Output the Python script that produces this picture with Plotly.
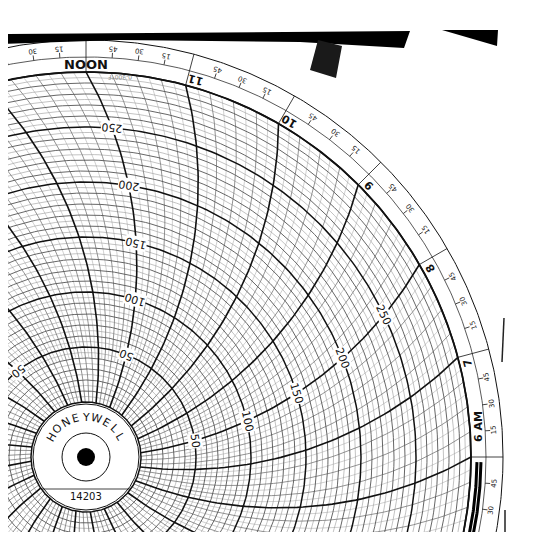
import numpy as np
import plotly.graph_objects as go

# --- chart paper geometry (pixel space of the photo) ---
CX, CY = 86, 457          # chart centre
R_HUB = 53                # white hub
R_ZERO = 55               # value 0
R_FULL = 385              # value 300 / edge of grid
R_OUT = 417               # outer rim
ARM = 390                 # pen arm length -> curvature of time lines
PAGE_PAD = 8              # browser body margin

VALUE_MAX = 300
VALUE_LABELS = [50, 100, 150, 200, 250]
LABEL_HOURS = [0, 4, 8, 12, 16, 20]
FLIPPED_LABEL_HOURS = [4, 8]
HOUR_NAMES = {12: "NOON", 11: "11", 10: "10", 9: "9", 8: "8", 7: "7", 6: "6 AM",
              5: "5", 4: "4", 3: "3", 2: "2", 1: "1", 0: "MIDNIGHT", 13: "1", 14: "2",
              15: "3", 16: "4", 17: "5", 18: "6 PM", 19: "7", 20: "8", 21: "9",
              22: "10", 23: "11"}
MINUTE_LABELS = [15, 30, 45]


def r_of(v):
    return R_ZERO + (R_FULL - R_ZERO) * v / VALUE_MAX


def phi(r):
    return np.arccos(r / (2 * ARM)) - np.arccos(R_FULL / (2 * ARM))


def pt(t, r):
    th = np.radians(15 * t - 90) - phi(r)
    return CX + r * np.cos(th), CY - r * np.sin(th), np.degrees(th)


def circle_xy(r, n=400):
    a = np.linspace(0, 2 * np.pi, n)
    return list(CX + r * np.cos(a)) + [None], list(CY - r * np.sin(a)) + [None]


def norm_rot(a):
    a = a % 360
    return a - 360 if a > 180 else a


fig = go.Figure()


def add_lines(xs, ys, color, width):
    fig.add_trace(go.Scatter(x=xs, y=ys, mode="lines", hoverinfo="skip",
                             line=dict(color=color, width=width), showlegend=False))


# concentric value circles
groups = {"minor": ([], []), "mid": ([], []), "major": ([], [])}
for v in range(0, VALUE_MAX + 1, 5):
    key = "major" if v % 50 == 0 else ("mid" if v % 10 == 0 else "minor")
    x, y = circle_xy(r_of(v))
    groups[key][0].extend(x)
    groups[key][1].extend(y)

# time lines
tl = {"fine": ([], []), "q": ([], []), "hour": ([], [])}
rs = np.linspace(R_ZERO, R_FULL, 60)
for k in range(24 * 8):
    t = k / 8
    if k % 8 == 0:
        key, r0 = "hour", R_ZERO
    elif k % 2 == 0:
        key, r0 = "q", R_ZERO
    else:
        key, r0 = "fine", r_of(40)
    rr = rs[rs >= r0]
    p = [pt(t, r) for r in rr]
    tl[key][0].extend([q[0] for q in p] + [None])
    tl[key][1].extend([q[1] for q in p] + [None])

add_lines(*tl["fine"], "#b0b0b0", 0.6)
add_lines(*groups["minor"], "#9a9a9a", 0.6)
add_lines(*tl["q"], "#777777", 0.8)
add_lines(*groups["mid"], "#555555", 0.9)
add_lines(*groups["major"], "#111111", 1.5)
add_lines(*tl["hour"], "#111111", 1.6)

# outer ring
for r, w in [(R_FULL, 1.8), (400, 0.7), (R_OUT, 1.0)]:
    add_lines(*circle_xy(r, 800), "#111111", w)
tx, ty = [], []
for k in range(24 * 4):
    t = k / 4
    a = np.radians(15 * t - 90)
    r1, r2 = (R_FULL, R_OUT) if k % 4 == 0 else (400, 405)
    tx += [CX + r1 * np.cos(a), CX + r2 * np.cos(a), None]
    ty += [CY - r1 * np.sin(a), CY - r2 * np.sin(a), None]
add_lines(tx, ty, "#111111", 0.8)

# heavy marker near 6 AM
for dr in (391, 395):
    a = np.radians(np.linspace(15 * 5.95 - 90, 15 * 5.2 - 90, 40))
    add_lines(list(CX + dr * np.cos(a)), list(CY - dr * np.sin(a)), "#000000", 3)

ann = []
# hour labels
for h, name in HOUR_NAMES.items():
    a = 15 * h - 90
    big = h == 12
    off = 4.5 if h == 6 else (0 if big else -1.2)
    ar = np.radians(a + off)
    rot = 0 if big else norm_rot(270 - a)
    ann.append(dict(x=CX + 393 * np.cos(ar), y=CY - 393 * np.sin(ar),
                    text="<b>%s</b>" % name, textangle=rot, showarrow=False,
                    font=dict(size=13 if big else 11, color="#111", family="DejaVu Sans")))
# minute labels
for h in range(24):
    for m in MINUTE_LABELS:
        a = 15 * (h + m / 60) - 90
        ar = np.radians(a)
        ann.append(dict(x=CX + 409 * np.cos(ar), y=CY - 409 * np.sin(ar), text=str(m),
                        textangle=norm_rot(270 - a), showarrow=False,
                        font=dict(size=7, color="#222", family="DejaVu Sans")))
# value labels
for h in LABEL_HOURS:
    for v in VALUE_LABELS:
        x, y, th = pt(h, r_of(v))
        rot = 270 - th + (180 if h in FLIPPED_LABEL_HOURS else 0)
        ann.append(dict(x=x, y=y, text=str(v), textangle=norm_rot(rot), showarrow=False,
                        bgcolor="white", borderpad=0,
                        font=dict(size=11, color="#111", family="DejaVu Sans")))

# hub text
HUB_TEXT = "HONEYWELL"
for i, ch in enumerate(HUB_TEXT):
    a = 150 - i * 120 / (len(HUB_TEXT) - 1)
    ar = np.radians(a)
    ann.append(dict(x=CX + 40 * np.cos(ar), y=CY - 40 * np.sin(ar), text=ch,
                    textangle=90 - a, showarrow=False,
                    font=dict(size=11, color="#111", family="DejaVu Sans")))
ann.append(dict(x=CX, y=CY + 39, text="14203", showarrow=False,
                font=dict(size=10, color="#111", family="DejaVu Sans")))
ann.append(dict(x=120, y=78, text="0-300°F", textangle=180, showarrow=False,
                font=dict(size=6, color="#888", family="DejaVu Sans")))

shapes = [
    dict(type="circle", x0=CX - R_HUB, x1=CX + R_HUB, y0=CY - R_HUB, y1=CY + R_HUB,
         fillcolor="white", line=dict(color="#111", width=1), layer="above"),
    dict(type="circle", x0=CX - 24, x1=CX + 24, y0=CY - 24, y1=CY + 24,
         line=dict(color="#111", width=1), layer="above"),
    dict(type="circle", x0=CX - 9, x1=CX + 9, y0=CY - 9, y1=CY + 9,
         fillcolor="black", line=dict(width=0), layer="above"),
    dict(type="line", x0=CX - 45, x1=CX + 45, y0=CY + 32, y1=CY + 32,
         line=dict(color="#111", width=0.8), layer="above"),
    # paper holder edges
    dict(type="path", path="M 0 34 L 410 31 L 404 48 L 300 42 L 120 40 L 0 44 Z",
         fillcolor="black", line=dict(width=0), layer="above"),
    dict(type="path", path="M 442 30 L 498 30 L 497 46 Z",
         fillcolor="black", line=dict(width=0), layer="above"),
    dict(type="path", path="M 318 40 L 342 46 L 336 78 L 310 70 Z",
         fillcolor="#1a1a1a", line=dict(width=0), layer="above"),
    dict(type="line", x0=504, x1=502, y0=318, y1=362, line=dict(color="#222", width=1.5)),
    dict(type="line", x0=505, x1=505, y0=510, y1=540, line=dict(color="#222", width=1.5)),
]

W, H = 552 - 2 * PAGE_PAD, 540 - 2 * PAGE_PAD
fig.update_layout(
    width=W, height=H, margin=dict(l=0, r=0, t=0, b=0),
    paper_bgcolor="white", plot_bgcolor="white",
    xaxis=dict(range=[PAGE_PAD, PAGE_PAD + W], visible=False),
    yaxis=dict(range=[PAGE_PAD + H, PAGE_PAD], visible=False),
    annotations=ann, shapes=shapes, showlegend=False,
)
fig.write_html("out.html")
